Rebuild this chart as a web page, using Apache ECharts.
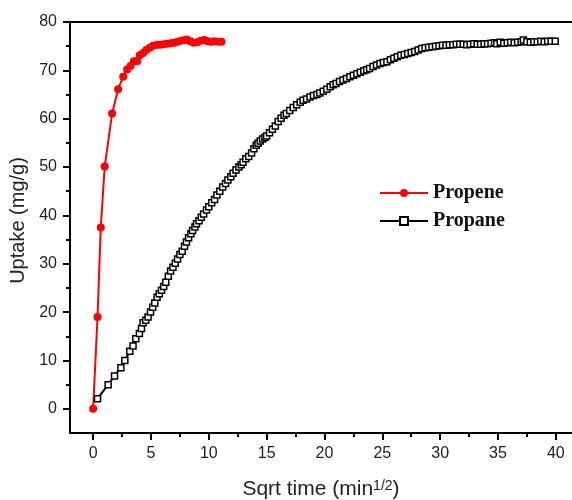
<!DOCTYPE html>
<html>
<head>
<meta charset="utf-8">
<title>Uptake vs sqrt time</title>
<script src="https://cdn.jsdelivr.net/npm/echarts@6/dist/echarts.min.js"></script>
<style>
  html, body { margin: 0; padding: 0; background: #fff; }
  #chart { width: 572px; height: 500px; }
</style>
</head>
<body>
<div id="chart"></div>
<script>
// propene (red, filled circles)
const propeneX = [0, 0.38, 0.66, 1.0, 1.64, 2.16, 2.6, 2.94, 3.23, 3.52, 3.8, 4.03, 4.32, 4.6, 4.9, 5.19,
  5.5, 5.8, 6.1, 6.4, 6.7, 7.0, 7.3, 7.6, 7.9, 8.1, 8.4, 8.7, 9.0, 9.3, 9.6, 9.9, 10.2, 10.5, 10.8, 11.1];
const propeneY = [0, 19.0, 37.5, 50.1, 61.1, 66.1, 68.7, 70.2, 70.9, 71.9, 71.9, 73.1, 73.6, 74.2, 74.7, 75.1,
  75.3, 75.3, 75.4, 75.5, 75.6, 75.7, 75.9, 76.1, 76.3, 76.4, 76.0, 75.7, 75.8, 76.1, 76.3, 76.0, 75.9, 76.0, 75.9, 75.9];

// propane (black, open squares)
const propaneX = [0.38, 1.3, 1.85, 2.4, 2.74, 3.17, 3.45, 3.69, 4.0, 4.18, 4.32, 4.55, 4.75, 4.96, 5.15, 5.33,
  5.53, 5.72, 5.91, 6.1, 6.28, 6.5, 6.7, 6.9, 7.1, 7.3, 7.5, 7.7, 7.9, 8.07, 8.25, 8.45, 8.6, 8.8, 8.94,
  9.15, 9.35, 9.55, 9.8, 10.0, 10.25, 10.5, 10.7, 10.95, 11.2, 11.45, 11.65, 11.9, 12.1, 12.35, 12.6, 12.8,
  12.96, 13.2, 13.45, 13.7, 13.9, 14.1, 14.26, 14.45, 14.65, 14.85, 15.0, 15.25, 15.5, 15.75, 16.0, 16.25,
  16.5, 16.7, 17.0, 17.3, 17.6, 17.9, 18.15, 18.45, 18.75, 19.05, 19.35, 19.6, 19.9, 20.2, 20.5, 20.75,
  21.0, 21.3, 21.6, 21.9, 22.2, 22.5, 22.8, 23.1, 23.4, 23.65, 23.9, 24.2, 24.5, 24.8, 25.1, 25.4, 25.7,
  26.0, 26.3, 26.6, 26.9, 27.2, 27.5, 27.8, 28.1, 28.4, 28.7, 29.0, 29.3, 29.6, 29.9, 30.2, 30.5, 30.8,
  31.1, 31.4, 31.7, 32.0, 32.3, 32.6, 32.9, 33.2, 33.5, 33.8, 34.1, 34.4, 34.7, 34.9, 35.2, 35.5, 35.8,
  36.1, 36.4, 36.7, 37.0, 37.2, 37.5, 37.8, 38.1, 38.4, 38.7, 39.0, 39.3, 39.6, 39.95];
const propaneY = [2.1, 5.0, 6.8, 8.5, 10.0, 11.9, 13.0, 14.5, 15.6, 16.6, 17.8, 18.3, 19.0, 20.0, 21.0, 21.9,
  23.1, 23.8, 24.5, 25.3, 26.2, 27.4, 28.5, 29.3, 30.1, 31.0, 31.9, 32.6, 33.6, 34.5, 35.4, 36.2, 36.9, 37.6, 38.3,
  38.9, 39.6, 40.3, 41.1, 41.8, 42.6, 43.3, 44.2, 45.0, 45.9, 46.6, 47.3, 48.0, 48.7, 49.4, 50.0, 50.5,
  51.0, 51.7, 52.2, 52.9, 53.8, 54.5, 54.9, 55.4, 55.8, 56.1, 56.4, 57.1, 57.8, 58.5, 59.4, 60.1,
  60.7, 61.1, 61.7, 62.3, 62.9, 63.4, 63.8, 64.1, 64.5, 64.8, 65.0, 65.3, 65.7, 66.1, 66.6, 67.0,
  67.3, 67.7, 68.0, 68.3, 68.7, 69.0, 69.3, 69.6, 69.9, 70.1, 70.4, 70.8, 71.1, 71.4, 71.6, 71.8, 72.2,
  72.5, 72.8, 73.1, 73.3, 73.5, 73.7, 73.9, 74.2, 74.5, 74.7, 74.8, 74.9, 75.0, 75.1, 75.2, 75.2, 75.3,
  75.3, 75.4, 75.4, 75.4, 75.3, 75.4, 75.5, 75.4, 75.4, 75.5, 75.5, 75.6, 75.7, 75.5, 75.8, 75.6, 75.7,
  75.8, 75.7, 75.8, 75.9, 76.3, 75.9, 75.8, 75.9, 75.9, 76.0, 75.9, 76.0, 76.0, 76.0];

// tick positions
const xMajor = [0, 5, 10, 15, 20, 25, 30, 35, 40];
const xMinor = [2.5, 7.5, 12.5, 17.5, 22.5, 27.5, 32.5, 37.5];
const yMajor = [0, 10, 20, 30, 40, 50, 60, 70, 80];
const yMinor = [5, 15, 25, 35, 45, 55, 65, 75];

const font = 'Liberation Sans, Arial, sans-serif';
const zip = (xs, ys) => xs.map((x, i) => [x, ys[i]]);

const chart = echarts.init(document.getElementById('chart'));

const lineStyle = { color: '#000', width: 2 };

const option = {
	animation: false,
	backgroundColor: '#fff',
	grid: { left: 70, right: 0, top: 22, bottom: 67, containLabel: false, outerBoundsMode: 'none' },
	legend: {
		orient: 'vertical',
		left: 379,
		top: 183,
		padding: 0,
		itemWidth: 48,
		itemHeight: 10,
		itemGap: 8,
		textStyle: {
			fontFamily: 'Liberation Serif, Times New Roman, serif',
			fontWeight: 'bold',
			fontSize: 20,
			lineHeight: 20,
			color: '#111',
		},
		data: ['Propene', 'Propane'],
	},
	xAxis: [
		{
			type: 'value',
			min: -2,
			max: 41.4,
			position: 'bottom',
			axisLine: { show: true, onZero: false, lineStyle },
			axisTick: { show: true, customValues: xMajor, length: 7, lineStyle: { width: 2, color: '#000' } },
			axisLabel: { customValues: xMajor, margin: 13, fontSize: 16, fontFamily: font, color: '#222' },
			splitLine: { show: false },
			name: 'Sqrt time (min{sup|1/2})',
			nameLocation: 'middle',
			nameGap: 46,
			nameTextStyle: {
				fontSize: 21,
				fontFamily: font,
				color: '#222',
				rich: {
					sup: { fontSize: 14, fontFamily: font, color: '#222', verticalAlign: 'top' },
				},
			},
		},
		{
			// minor ticks
			type: 'value',
			min: -2,
			max: 41.4,
			position: 'bottom',
			axisLine: { show: false, onZero: false },
			axisTick: { show: true, customValues: xMinor, length: 4, lineStyle: { width: 2, color: '#000' } },
			axisLabel: { show: false },
			splitLine: { show: false },
		},
		{
			// top frame line
			type: 'value',
			min: -2,
			max: 41.4,
			position: 'top',
			axisLine: { show: true, onZero: false, lineStyle },
			axisTick: { show: false },
			axisLabel: { show: false },
			splitLine: { show: false },
		},
	],
	yAxis: [
		{
			type: 'value',
			min: -5,
			max: 80,
			position: 'left',
			axisLine: { show: true, onZero: false, lineStyle },
			axisTick: { show: true, customValues: yMajor, length: 7, lineStyle: { width: 2, color: '#000' } },
			axisLabel: { customValues: yMajor, margin: 13, fontSize: 16, fontFamily: font, color: '#222' },
			splitLine: { show: false },
			name: 'Uptake (mg/g)',
			nameLocation: 'middle',
			nameGap: 38,
			nameTextStyle: { fontSize: 20, fontFamily: font, color: '#222', padding: [0, 0, 0, 14] },
		},
		{
			// minor ticks
			type: 'value',
			min: -5,
			max: 80,
			position: 'left',
			axisLine: { show: false, onZero: false },
			axisTick: { show: true, customValues: yMinor, length: 4, lineStyle: { width: 2, color: '#000' } },
			axisLabel: { show: false },
			splitLine: { show: false },
		},
	],
	series: [
		{
			name: 'Propane',
			type: 'line',
			xAxisIndex: 0,
			yAxisIndex: 0,
			data: zip(propaneX, propaneY),
			symbol: 'rect',
			symbolSize: 6,
			showAllSymbol: true,
			lineStyle: { color: '#000', width: 2 },
			itemStyle: { color: '#fff', borderColor: '#000', borderWidth: 1.5 },
		},
		{
			name: 'Propene',
			type: 'line',
			xAxisIndex: 0,
			yAxisIndex: 0,
			data: zip(propeneX, propeneY),
			symbol: 'circle',
			symbolSize: 8,
			showAllSymbol: true,
			lineStyle: { color: '#ff0000', width: 2 },
			itemStyle: { color: '#ff0000' },
		},
	],
};

option && chart.setOption(option);
</script>
</body>
</html>
